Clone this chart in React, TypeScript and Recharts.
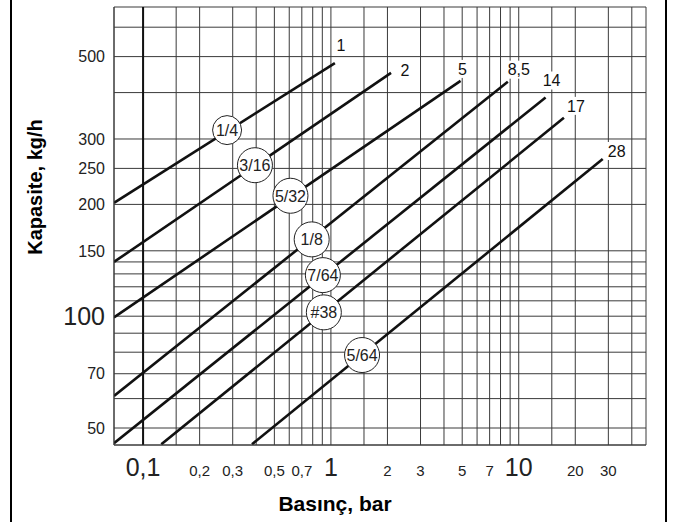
import { LineChart, Line, XAxis, YAxis, CartesianGrid, ReferenceLine, ReferenceDot } from 'recharts';

// Lines: pressure (bar) vs capacity (kg/h), start and end point of each straight line
const lineNames = ['1', '2', '5', '8,5', '14', '17', '28'];
const startPressure = [0.07, 0.07, 0.07, 0.07, 0.07, 0.125, 0.38];
const startCapacity = [202, 140, 99.3, 61, 45.5, 45.2, 45.2];
const endPressure = [1.05, 2.09, 4.9, 8.75, 13.9, 17.4, 28];
const endCapacity = [480, 452, 430, 428, 388, 342, 265];

// Orifice markers sitting on the lines
const orificeNames = ['1/4', '3/16', '5/32', '1/8', '7/64', '#38', '5/64'];
const orificePressure = [0.28, 0.394, 0.609, 0.79, 0.906, 0.917, 1.465];
const orificeCapacity = [317, 255, 211, 161, 129, 102.4, 78.6];

// Axes
const xGrid = [0.1, 0.15, 0.2, 0.3, 0.4, 0.5, 0.6, 0.7, 0.8, 0.9, 1, 1.5, 2, 3, 4, 5, 6, 7, 8, 9, 10, 15, 20, 30, 40];
const xLabelValues = [0.1, 0.2, 0.3, 0.5, 0.7, 1, 2, 3, 5, 7, 10, 20, 30];
const xBigValues = [0.1, 1, 10];
const yGrid = [50, 60, 70, 80, 90, 100, 110, 120, 130, 140, 150, 200, 250, 300, 400, 500, 600];
const yLabelValues = [50, 70, 100, 150, 200, 250, 300, 500];
const yBigValues = [100];

// layout only: where each end label sits relative to the line end (px)
const endLabelOffset = [[6, -18], [14, -3], [2, -12], [11, -12], [6, -17], [12, -12], [14, -8]];
const orificeRadius = [14.5, 17.5, 17.5, 17.5, 17.5, 17.5, 17.5];

const NARROW = "'Liberation Sans Narrow', 'Arial Narrow', 'Liberation Sans', sans-serif";
const BOLD = "'Liberation Sans', Arial, Helvetica, sans-serif";
const INK = '#111';
const GRID = '#3a3a3a';

const series = lineNames.map((name, i) => ({
    name,
    data: [
        { p: startPressure[i], c: startCapacity[i] },
        { p: endPressure[i], c: endCapacity[i] },
    ],
}));

const fmt = (v: number) => String(v).replace('.', ',');

const XTick = ({ x, y, payload }: any) => {
    const v = payload.value;
    if (!xLabelValues.includes(v)) return <g />;
    const big = xBigValues.includes(v);
    return (
        <text x={x} y={y + 23} textAnchor="middle" fontSize={big ? 25 : 15} fontFamily={NARROW} fill="#222">
            {fmt(v)}
        </text>
    );
};

const YTick = ({ x, y, payload }: any) => {
    const v = payload.value;
    if (!yLabelValues.includes(v)) return <g />;
    const big = yBigValues.includes(v);
    return (
        <text x={x - 1} y={y} dy="0.36em" textAnchor="end" fontSize={big ? 25 : 16} fontFamily={NARROW} fill="#222">
            {v}
        </text>
    );
};

const EndLabel = ({ x, y, index, i }: any) => {
    if (index !== 1) return null;
    const [dx, dy] = endLabelOffset[i];
    const text = lineNames[i];
    const w = text.length * 8 + 4;
    return (
        <g>
            <rect x={x + dx - w / 2} y={y + dy - 9} width={w} height={18} fill="#fff" />
            <text x={x + dx} y={y + dy} dy="0.36em" textAnchor="middle" fontSize={16} fontFamily={NARROW} fill={INK}>
                {text}
            </text>
        </g>
    );
};

export default function App() {
    return (
        <div style={{ position: 'absolute', left: 0, top: 0, width: 673, height: 522, background: '#fff' }}>
            <div style={{
                position: 'absolute', left: 10, top: 0, width: 657, height: 522,
                borderLeft: '2px solid #000', borderRight: '2px solid #000', boxSizing: 'border-box'
            }} />
            <div style={{ position: 'absolute', left: 0, top: 0 }}>
                <LineChart width={673} height={522} margin={{ top: 7, right: 27, left: 0, bottom: 0 }}>
                    <CartesianGrid stroke={GRID} strokeWidth={1} />
                    <XAxis
                        dataKey="p"
                        type="number"
                        scale="log"
                        domain={[0.07, 47.6]}
                        allowDataOverflow
                        ticks={xGrid}
                        interval={0}
                        height={77}
                        tickLine={false}
                        axisLine={{ stroke: GRID }}
                        tick={<XTick />}
                        label={{
                            content: ({ viewBox }: any) => (
                                <text x={viewBox.x + 221} y={viewBox.y + 66} textAnchor="middle"
                                    fontSize={21} fontWeight="bold" fontFamily={BOLD} fill="#000">
                                    Basınç, bar
                                </text>
                            ),
                        }}
                    />
                    <XAxis xAxisId="top" orientation="top" type="number" scale="log" domain={[0.07, 47.6]}
                        allowDataOverflow height={0} tick={false} tickLine={false} axisLine={{ stroke: GRID }} />
                    <YAxis
                        type="number"
                        scale="log"
                        domain={[45, 680]}
                        allowDataOverflow
                        ticks={yGrid}
                        interval={0}
                        width={114}
                        tickLine={false}
                        axisLine={{ stroke: GRID }}
                        tick={<YTick />}
                        label={{
                            content: ({ viewBox }: any) => {
                                const cx = viewBox.x + 35;
                                const cy = viewBox.y + 180;
                                return (
                                    <text x={cx} y={cy} textAnchor="middle" dominantBaseline="central"
                                        transform={`rotate(-90 ${cx} ${cy})`}
                                        fontSize={20} fontWeight="bold" fontFamily={BOLD} fill="#000">
                                        Kapasite, kg/h
                                    </text>
                                );
                            },
                        }}
                    />
                    <YAxis yAxisId="right" orientation="right" type="number" scale="log" domain={[45, 680]}
                        allowDataOverflow width={0} tick={false} tickLine={false} axisLine={{ stroke: GRID }} />
                    <ReferenceLine x={0.1} stroke="#111" strokeWidth={2} />
                    {series.map((s, i) => (
                        <Line
                            key={s.name}
                            data={s.data}
                            dataKey="c"
                            type="linear"
                            stroke={INK}
                            strokeWidth={2.6}
                            dot={false}
                            activeDot={false}
                            isAnimationActive={false}
                            label={(props: any) => <EndLabel {...props} i={i} />}
                        />
                    ))}
                    {orificeNames.map((name, i) => (
                        <ReferenceDot
                            key={name}
                            x={orificePressure[i]}
                            y={orificeCapacity[i]}
                            r={orificeRadius[i]}
                            shape={(props: any) => (
                                <g>
                                    <circle cx={props.cx} cy={props.cy} r={orificeRadius[i]} fill="#fff" stroke="#222" strokeWidth={1} />
                                    <text x={props.cx} y={props.cy} dy="0.36em" textAnchor="middle" fontSize={16}
                                        fontFamily={NARROW} fill="#222">
                                        {name}
                                    </text>
                                </g>
                            )}
                        />
                    ))}
                </LineChart>
            </div>
        </div>
    );
}
